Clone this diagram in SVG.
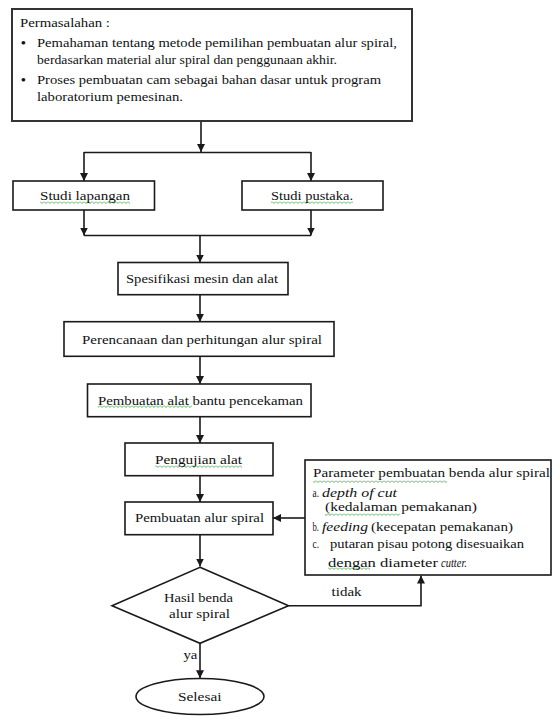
<svg xmlns="http://www.w3.org/2000/svg" width="553" height="716" viewBox="0 0 553 716">
<style>
.box{fill:#fff;stroke:#1a1a1a;stroke-width:1.6}
.top{fill:#fff;stroke:#333;stroke-width:2}
.ln{fill:none;stroke:#1a1a1a;stroke-width:1.6}
.t{font-family:"Liberation Serif","Times New Roman",serif;font-size:13.5px;fill:#111}
.p{font-family:"Liberation Serif","Times New Roman",serif;font-size:13px;fill:#111}
.i{font-style:italic;font-size:11.5px}
.sq{fill:url(#sq)}
</style>
<defs>
<marker id="ah" viewBox="0 0 10 10" refX="10" refY="5" markerUnits="userSpaceOnUse" markerWidth="8" markerHeight="10" orient="auto">
<path d="M0,0 L10,5 L0,10 z" fill="#1a1a1a"/>
</marker>
<pattern id="sq" width="4" height="3" patternUnits="userSpaceOnUse">
<path d="M0 0.5 L2 2.5 L4 0.5" fill="none" stroke="#3a9a3a" stroke-width="0.8"/>
</pattern>
</defs>
<rect width="553" height="716" fill="#fff"/>

<g id="connectors">
<line class="ln" x1="201" y1="121" x2="201" y2="152" marker-end="url(#ah)"/>
<line class="ln" x1="84" y1="152.5" x2="311" y2="152.5"/>
<line class="ln" x1="84" y1="152" x2="84" y2="181" marker-end="url(#ah)"/>
<line class="ln" x1="311" y1="152" x2="311" y2="181" marker-end="url(#ah)"/>
<line class="ln" x1="84" y1="210" x2="84" y2="235.5" marker-end="url(#ah)"/>
<line class="ln" x1="311" y1="210" x2="311" y2="235.5" marker-end="url(#ah)"/>
<line class="ln" x1="84" y1="235.5" x2="311" y2="235.5"/>
<line class="ln" x1="200" y1="235.5" x2="200" y2="262.5" marker-end="url(#ah)"/>
<line class="ln" x1="200" y1="294.7" x2="200" y2="321.7" marker-end="url(#ah)"/>
<line class="ln" x1="200" y1="356.3" x2="200" y2="384" marker-end="url(#ah)"/>
<line class="ln" x1="200" y1="416.7" x2="200" y2="443" marker-end="url(#ah)"/>
<line class="ln" x1="200" y1="475.7" x2="200" y2="502" marker-end="url(#ah)"/>
<line class="ln" x1="200" y1="534.7" x2="200" y2="566.5" marker-end="url(#ah)"/>
<line class="ln" x1="305" y1="518" x2="273" y2="518" marker-end="url(#ah)"/>
<polyline class="ln" points="288.5,605.7 421,605.7 421,575.5" marker-end="url(#ah)"/>
<line class="ln" x1="200" y1="643.3" x2="200" y2="678.3" marker-end="url(#ah)"/>
<text class="t" x="331.6" y="595.5" textLength="30" lengthAdjust="spacingAndGlyphs">tidak</text>
<text class="t" x="183.4" y="659" textLength="14" lengthAdjust="spacingAndGlyphs">ya</text>
</g>

<g id="permasalahan">
<rect class="top" x="12" y="9" width="400" height="112"/>
<text class="t" x="20" y="27" textLength="90" lengthAdjust="spacingAndGlyphs">Permasalahan :</text>
<text class="t" x="21" y="47" font-weight="bold">•</text>
<text class="t" x="37" y="47" textLength="360" lengthAdjust="spacingAndGlyphs">Pemahaman tentang metode pemilihan pembuatan alur spiral,</text>
<text class="t" x="37" y="63.5" textLength="300" lengthAdjust="spacingAndGlyphs">berdasarkan material alur spiral dan penggunaan akhir.</text>
<text class="t" x="21" y="84" font-weight="bold">•</text>
<text class="t" x="37" y="84" textLength="344" lengthAdjust="spacingAndGlyphs">Proses pembuatan cam sebagai bahan dasar untuk program</text>
<text class="t" x="37" y="100.5" textLength="146" lengthAdjust="spacingAndGlyphs">laboratorium pemesinan.</text>
</g>

<g id="studi-lapangan">
<rect class="box" x="13" y="181" width="141.5" height="29"/>
<rect class="sq" x="40" y="201" width="90" height="3"/>
<text class="t" x="40" y="200" textLength="90" lengthAdjust="spacingAndGlyphs">Studi  lapangan</text>
</g>

<g id="studi-pustaka">
<rect class="box" x="242" y="181" width="141" height="29"/>
<rect class="sq" x="271" y="201" width="82" height="3"/>
<text class="t" x="271" y="200" textLength="82" lengthAdjust="spacingAndGlyphs">Studi  pustaka.</text>
</g>

<g id="spesifikasi">
<rect class="box" x="118" y="262.5" width="170" height="32.2"/>
<text class="t" x="126" y="283" textLength="152" lengthAdjust="spacingAndGlyphs">Spesifikasi mesin dan alat</text>
</g>

<g id="perencanaan">
<rect class="box" x="64" y="321.7" width="270" height="34.6"/>
<text class="t" x="82" y="343.5" textLength="240" lengthAdjust="spacingAndGlyphs">Perencanaan dan perhitungan alur spiral</text>
</g>

<g id="pembuatan-alat">
<rect class="box" x="87.5" y="384" width="223.5" height="32.7"/>
<rect class="sq" x="98" y="405" width="94" height="3"/>
<text class="t" x="98" y="404.5" textLength="205" lengthAdjust="spacingAndGlyphs">Pembuatan  alat bantu pencekaman</text>
</g>

<g id="pengujian">
<rect class="box" x="125" y="443" width="148" height="32.7"/>
<rect class="sq" x="155" y="465" width="87" height="3"/>
<text class="t" x="155" y="463.5" textLength="87" lengthAdjust="spacingAndGlyphs">Pengujian  alat</text>
</g>

<g id="pembuatan-alur">
<rect class="box" x="125" y="502" width="148" height="32.7"/>
<text class="t" x="135" y="521.5" textLength="129" lengthAdjust="spacingAndGlyphs">Pembuatan alur spiral</text>
</g>

<g id="parameter">
<rect class="box" x="305" y="460" width="246" height="115"/>
<rect class="sq" x="313" y="480" width="134" height="3"/>
<rect class="sq" x="325" y="513" width="75" height="3"/>
<rect class="sq" x="328" y="567" width="42" height="3"/>
<text class="p" x="313" y="477" textLength="237" lengthAdjust="spacingAndGlyphs">Parameter  pembuatan benda  alur spiral</text>
<text class="p" x="312.5" y="496.5" textLength="6.5" lengthAdjust="spacingAndGlyphs">a.</text>
<text class="p i" x="322" y="496.5" textLength="75" lengthAdjust="spacingAndGlyphs">depth of cut</text>
<text class="p" x="325" y="511" textLength="152" lengthAdjust="spacingAndGlyphs">(kedalaman pemakanan)</text>
<text class="p" x="312.5" y="530.7" textLength="6.5" lengthAdjust="spacingAndGlyphs">b.</text>
<text class="p i" x="322" y="530.7" textLength="46" lengthAdjust="spacingAndGlyphs">feeding</text>
<text class="p" x="371" y="530.7" textLength="142" lengthAdjust="spacingAndGlyphs">(kecepatan pemakanan)</text>
<text class="p" x="312.5" y="548" textLength="6.5" lengthAdjust="spacingAndGlyphs">c.</text>
<text class="p" x="330" y="548" textLength="194" lengthAdjust="spacingAndGlyphs">putaran pisau potong disesuaikan</text>
<text class="p" x="328" y="566.7" textLength="110" lengthAdjust="spacingAndGlyphs">dengan diameter</text>
<text class="p i" x="441" y="566.7" textLength="26" lengthAdjust="spacingAndGlyphs">cutter.</text>
</g>

<g id="hasil">
<polygon class="box" points="200,567.3 288.5,605.7 200,643.3 112,605.7"/>
<text class="t" x="164" y="601.5" textLength="69" lengthAdjust="spacingAndGlyphs">Hasil benda</text>
<text class="t" x="169" y="617.5" textLength="61" lengthAdjust="spacingAndGlyphs">alur spiral</text>
</g>

<g id="selesai">
<ellipse class="box" cx="200" cy="696.5" rx="64" ry="18"/>
<text class="t" x="178" y="701" textLength="43.5" lengthAdjust="spacingAndGlyphs">Selesai</text>
</g>
</svg>
